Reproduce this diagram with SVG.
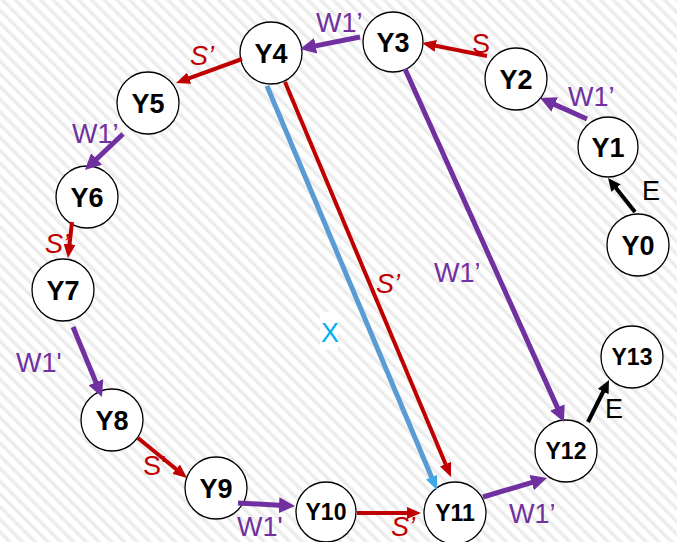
<svg xmlns="http://www.w3.org/2000/svg" width="677" height="542" viewBox="0 0 677 542">
<defs>
<pattern id="hatch" patternUnits="userSpaceOnUse" width="9" height="9" patternTransform="rotate(-45)">
<rect x="0" y="0" width="9" height="9" fill="#ffffff"/>
<rect x="0" y="0" width="3.5" height="9" fill="#ececec"/>
</pattern>
<marker id="hp" viewBox="0 0 16 16" refX="4" refY="8" markerWidth="16" markerHeight="16" markerUnits="userSpaceOnUse" orient="auto"><path d="M0,0 L16,8 L0,16 z" fill="#7030A0"/></marker>
<marker id="hr" viewBox="0 0 14 12" refX="4" refY="6" markerWidth="14" markerHeight="12" markerUnits="userSpaceOnUse" orient="auto"><path d="M0,0 L14,6 L0,12 z" fill="#C00000"/></marker>
<marker id="hk" viewBox="0 0 13 12" refX="4" refY="6" markerWidth="13" markerHeight="12" markerUnits="userSpaceOnUse" orient="auto"><path d="M0,0 L13,6 L0,12 z" fill="#000000"/></marker>
<marker id="hb" viewBox="0 0 14 12" refX="4" refY="6" markerWidth="14" markerHeight="12" markerUnits="userSpaceOnUse" orient="auto"><path d="M0,0 L14,6 L0,12 z" fill="#3FA9E8"/></marker>
</defs>
<style>
.node circle{fill:#ffffff;stroke:#000000;stroke-width:1.3}
.node text{font-family:"Liberation Sans",Arial,sans-serif;font-weight:bold;fill:#000000;text-anchor:middle}
.n1 text{font-size:27px}
.n2 text{font-size:23px}
.lbl{font-family:"Liberation Sans",Arial,sans-serif;font-size:27px}
.lp{fill:#7030A0}
.lr{fill:#C00000}
.li{font-style:italic}
.lk{fill:#000000}
.p{stroke:#7030A0;stroke-width:5;fill:none;marker-end:url(#hp)}
.r{stroke:#C00000;stroke-width:4;fill:none;marker-end:url(#hr)}
.k{stroke:#000000;stroke-width:4;fill:none;marker-end:url(#hk)}
.b{stroke:#5B9BD5;stroke-width:5;fill:none;marker-end:url(#hb)}
</style>
<rect x="0" y="0" width="677" height="542" fill="url(#hatch)"/>

<g id="labels">
<text class="lbl lk" x="642" y="200">E</text>
<text class="lbl lp" x="568" y="106">W1’</text>
<text class="lbl lr" x="472" y="53">S</text>
<text class="lbl lp" x="316" y="32">W1’</text>
<text class="lbl lr li" x="190" y="65">S’</text>
<text class="lbl lp" x="72" y="143">W1’</text>
<text class="lbl lr li" x="45" y="253">S’</text>
<text class="lbl lp" x="16" y="372">W1'</text>
<text class="lbl lr" x="143" y="475">S'</text>
<text class="lbl lp" x="237" y="536">W1'</text>
<text class="lbl lr li" x="391" y="536">S’</text>
<text class="lbl lp" x="509" y="523">W1’</text>
<text class="lbl lk" x="605" y="418">E</text>
<text class="lbl lp" x="434" y="282">W1’</text>
<text class="lbl lr li" x="376" y="293">S’</text>
<rect x="320" y="312" width="18" height="38" fill="#ffffff"/>
<text class="lbl" x="321" y="342" fill="#00B0F0">X</text>
</g>

<g id="Y0" class="node n1"><circle cx="638" cy="245" r="31"/><text x="638" y="254.7">Y0</text></g>
<g id="Y1" class="node n1"><circle cx="608" cy="147" r="30"/><text x="608" y="156.7">Y1</text></g>
<g id="Y2" class="node n1"><circle cx="516" cy="79" r="31"/><text x="516" y="88.7">Y2</text></g>
<g id="Y3" class="node n1"><circle cx="393" cy="42" r="30"/><text x="393" y="51.7">Y3</text></g>
<g id="Y4" class="node n1"><circle cx="271" cy="53" r="31"/><text x="271" y="62.7">Y4</text></g>
<g id="Y5" class="node n1"><circle cx="148" cy="103" r="31"/><text x="148" y="112.7">Y5</text></g>
<g id="Y6" class="node n1"><circle cx="87" cy="197" r="31"/><text x="87" y="206.7">Y6</text></g>
<g id="Y7" class="node n1"><circle cx="63" cy="290" r="31"/><text x="63" y="299.7">Y7</text></g>
<g id="Y8" class="node n1"><circle cx="112" cy="420" r="31"/><text x="112" y="429.7">Y8</text></g>
<g id="Y9" class="node n1"><circle cx="216" cy="488" r="31"/><text x="216" y="497.7">Y9</text></g>
<g id="Y10" class="node n2"><circle cx="326" cy="512" r="30"/><text x="326" y="520.2">Y10</text></g>
<g id="Y11" class="node n2"><circle cx="455" cy="513" r="31"/><text x="455" y="521.2">Y11</text></g>
<g id="Y12" class="node n2"><circle cx="566" cy="451" r="31"/><text x="566" y="459.2">Y12</text></g>
<g id="Y13" class="node n2"><circle cx="632" cy="357" r="31"/><text x="632" y="365.2">Y13</text></g>

<g id="connectors">
<line class="k" x1="635" y1="212" x2="613.6" y2="185"/>
<line class="p" x1="587" y1="119" x2="551" y2="102.9"/>
<line class="r" x1="487" y1="56" x2="431.8" y2="45"/>
<line class="p" x1="360" y1="37" x2="311.8" y2="46.6"/>
<line class="r" x1="242" y1="59" x2="185.4" y2="79.6"/>
<line class="p" x1="123" y1="134" x2="93.7" y2="161.7"/>
<line class="r" x1="72" y1="222" x2="69.1" y2="248.1"/>
<line class="p" x1="73" y1="327" x2="97.4" y2="385.9"/>
<line class="r" x1="138" y1="438" x2="179.3" y2="471.7"/>
<line class="p" x1="238" y1="503" x2="283" y2="505.4"/>
<line class="r" x1="357" y1="513" x2="411" y2="513"/>
<line class="p" x1="483" y1="497" x2="535.5" y2="481.4"/>
<line class="k" x1="588" y1="422" x2="605" y2="388"/>
<line class="p" x1="405" y1="69" x2="559" y2="411.1"/>
<line class="r" x1="285" y1="82" x2="447.1" y2="467.8"/>
<line class="b" x1="267" y1="86" x2="433.1" y2="480.8"/>
</g>
</svg>
